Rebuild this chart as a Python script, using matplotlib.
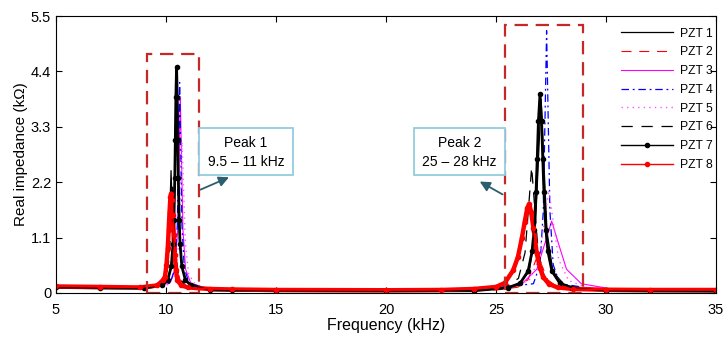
import numpy as np
import matplotlib.pyplot as plt
from matplotlib.patches import Rectangle

plt.rcParams['font.family'] = ['Liberation Sans', 'DejaVu Sans']

# ---- data: frequency (kHz) / real impedance (kOhm) ----
pzt1_f = [5, 7, 9, 9.75, 9.99, 10.11, 10.174, 10.23, 10.286, 10.35, 10.47, 10.71,
          12, 13, 15, 20, 24, 25.97, 26.51, 26.78, 26.924, 27.05, 27.176, 27.32, 27.59, 28.13,
          30, 32, 35]
pzt1_v = [0.11, 0.10, 0.09, 0.153, 0.324, 0.811, 1.66, 2.43, 1.66, 0.811, 0.324, 0.153,
          0.06, 0.05, 0.045, 0.04, 0.045, 0.148, 0.425, 1.215, 2.595, 3.845, 2.595, 1.215, 0.425, 0.148,
          0.045, 0.04, 0.035]

pzt2_f = [5, 7, 9, 9.55, 9.91, 10.09, 10.186, 10.27, 10.354, 10.45, 10.63, 10.99,
          12, 13, 15, 20, 24, 25.1, 26.0, 26.45, 26.69, 26.9, 27.11, 27.35, 27.8, 28.7,
          30, 32, 35]
pzt2_v = [0.12, 0.11, 0.10, 0.138, 0.266, 0.632, 1.271, 1.85, 1.271, 0.632, 0.266, 0.138,
          0.07, 0.06, 0.05, 0.045, 0.05, 0.064, 0.116, 0.262, 0.518, 0.75, 0.518, 0.262, 0.116, 0.064,
          0.05, 0.045, 0.04]

pzt3_f = [5, 7, 9, 10.17, 10.41, 10.53, 10.594, 10.65, 10.706, 10.77, 10.89, 11.13,
          12, 13, 15, 20, 23.5, 24.83, 26.18, 26.855, 27.215, 27.53, 27.845, 28.205, 28.88, 30.23,
          32, 35]
pzt3_v = [0.12, 0.11, 0.10, 0.193, 0.471, 1.263, 2.647, 3.9, 2.647, 1.263, 0.471, 0.193,
          0.07, 0.06, 0.05, 0.045, 0.06, 0.082, 0.184, 0.472, 0.974, 1.43, 0.974, 0.472, 0.184, 0.082,
          0.05, 0.04]

pzt4_f = [5, 7, 9, 10.20, 10.41, 10.515, 10.571, 10.62, 10.669, 10.725, 10.83, 11.04,
          12, 13, 15, 20, 24, 26.7, 27.0, 27.15, 27.23, 27.30, 27.37, 27.45, 27.6, 27.9,
          30, 32, 35]
pzt4_v = [0.12, 0.11, 0.10, 0.20, 0.499, 1.35, 2.834, 4.18, 2.834, 1.35, 0.499, 0.20,
          0.07, 0.06, 0.05, 0.045, 0.05, 0.184, 0.562, 1.636, 3.511, 5.21, 3.511, 1.636, 0.562, 0.184,
          0.05, 0.045, 0.04]

pzt5_f = [5, 7, 9, 10.13, 10.43, 10.58, 10.66, 10.73, 10.80, 10.88, 11.03, 11.33,
          12, 13, 15, 20, 24, 25.6, 26.5, 26.95, 27.19, 27.4, 27.61, 27.85, 28.3, 29.2,
          30, 32, 35]
pzt5_v = [0.12, 0.11, 0.10, 0.169, 0.381, 0.986, 2.043, 3.0, 2.043, 0.986, 0.381, 0.169,
          0.075, 0.06, 0.05, 0.045, 0.05, 0.099, 0.246, 0.663, 1.39, 2.05, 1.39, 0.663, 0.246, 0.099,
          0.06, 0.045, 0.04]

pzt6_f = [5, 7, 9, 9.7, 10.0, 10.15, 10.23, 10.3, 10.37, 10.45, 10.6, 10.9,
          12, 13, 15, 20, 24, 25.42, 26.02, 26.32, 26.48, 26.62, 26.76, 26.92, 27.22, 27.82,
          30, 32, 35]
pzt6_v = [0.11, 0.10, 0.09, 0.144, 0.291, 0.709, 1.439, 2.1, 1.439, 0.709, 0.291, 0.144,
          0.06, 0.05, 0.045, 0.04, 0.05, 0.111, 0.291, 0.801, 1.692, 2.5, 1.692, 0.801, 0.291, 0.111,
          0.045, 0.04, 0.035]

pzt7_f = [5, 7, 9, 9.84, 10.08, 10.24, 10.32, 10.36, 10.40, 10.424, 10.448, 10.48,
          10.512, 10.536, 10.56, 10.60, 10.64, 10.72, 10.88, 11.12,
          12, 13, 15, 20, 24, 25.56, 26.10, 26.46, 26.64, 26.73, 26.82, 26.874, 26.928, 27.0,
          27.072, 27.126, 27.18, 27.27, 27.36, 27.54, 27.90, 28.44,
          30, 32, 35]
pzt7_v = [0.11, 0.10, 0.09, 0.158, 0.259, 0.53, 0.97, 1.445, 2.29, 3.042, 3.883, 4.49,
          3.883, 3.042, 2.29, 1.445, 0.97, 0.53, 0.259, 0.158,
          0.06, 0.05, 0.045, 0.04, 0.045, 0.105, 0.195, 0.436, 0.826, 1.248, 1.998, 2.665, 3.411, 3.95,
          3.411, 2.665, 1.998, 1.248, 0.826, 0.436, 0.195, 0.105,
          0.045, 0.04, 0.035]

pzt8_f = [5, 7, 8.8, 9.6, 9.85, 9.95, 10.02, 10.08, 10.12, 10.16, 10.2, 10.23,
          10.27, 10.31, 10.35, 10.40, 10.45, 10.52, 10.7, 11.0,
          12, 13, 15, 20, 22.5, 24.0, 25.0, 25.4, 25.78, 26.0, 26.18, 26.3, 26.42, 26.51,
          26.6, 26.7, 26.85, 27.0, 27.14, 27.4, 27.8, 28.5,
          30, 32, 35]
pzt8_v = [0.13, 0.12, 0.11, 0.15, 0.25, 0.32, 0.55, 0.9, 1.25, 1.6, 1.9, 1.97,
          1.85, 1.55, 1.15, 0.75, 0.45, 0.25, 0.15, 0.11,
          0.08, 0.07, 0.06, 0.055, 0.06, 0.08, 0.12, 0.2, 0.45, 0.72, 1.1, 1.4, 1.68, 1.77,
          1.6, 1.3, 0.79, 0.5, 0.32, 0.18, 0.11, 0.08,
          0.065, 0.06, 0.06]

x_ticks = [5, 10, 15, 20, 25, 30, 35]
y_ticks = [0, 1.1, 2.2, 3.3, 4.4, 5.5]

fig = plt.figure(figsize=(7.27, 3.38), dpi=100)
ax = fig.add_axes([56 / 727, 45 / 338, 660 / 727, 277 / 338])

ax.plot(pzt1_f, pzt1_v, color='black', lw=0.9, label='PZT 1')
ax.plot(pzt2_f, pzt2_v, color='#FF0000', lw=0.8, dashes=(9, 7), label='PZT 2')
ax.plot(pzt3_f, pzt3_v, color='#FF00FF', lw=0.8, label='PZT 3')
ax.plot(pzt4_f, pzt4_v, color='#0000FF', lw=0.9, dashes=(6, 3, 1.5, 3), label='PZT 4')
ax.plot(pzt5_f, pzt5_v, color='#FF55FF', lw=1.0, dashes=(1, 3), label='PZT 5')
ax.plot(pzt6_f, pzt6_v, color='black', lw=0.9, dashes=(9, 7), label='PZT 6')

# thick underlays for the marker series
ax.plot(pzt7_f, pzt7_v, color='black', lw=2.0)
ax.plot(pzt8_f, pzt8_v, color='#FF0000', lw=3.2)
ax.plot(pzt7_f, pzt7_v, color='black', lw=1.0, marker='o', ms=3.0, label='PZT 7')
ax.plot(pzt8_f, pzt8_v, color='#FF0000', lw=1.0, marker='o', ms=3.0, label='PZT 8')

# dashed boxes around the two peak regions
box_col = '#C62828'
ax.add_patch(Rectangle((9.12, 0.0), 11.51 - 9.12, 4.75, fill=False, ec=box_col,
                       lw=1.6, ls=(0, (6, 3.5)), zorder=5))
ax.add_patch(Rectangle((25.41, 0.0), 28.94 - 25.41, 5.32, fill=False, ec=box_col,
                       lw=1.6, ls=(0, (6, 3.5)), zorder=5))

# callout boxes
for x0, x1, txt in [(11.5, 15.77, 'Peak 1\n9.5 \u2013 11 kHz'),
                    (21.27, 25.41, 'Peak 2\n25 \u2013 28 kHz')]:
    ax.add_patch(Rectangle((x0, 2.34), x1 - x0, 0.94, fc='white', ec='#92CDDC',
                           lw=1.3, zorder=6))
    ax.text((x0 + x1) / 2, 2.79, txt, ha='center', va='center', fontsize=10,
            linespacing=1.45, zorder=7)

arrow_kw = dict(arrowstyle='-|>,head_length=0.6,head_width=0.3', color='#2B5F6E', lw=1.3)
ax.annotate('', xy=(12.98, 2.32), xytext=(11.45, 2.03), arrowprops=arrow_kw, zorder=7)
ax.annotate('', xy=(24.15, 2.24), xytext=(25.41, 1.93), arrowprops=arrow_kw, zorder=7)

ax.set_xlim(5, 35)
ax.set_ylim(0, 5.5)
ax.set_xticks(x_ticks)
ax.set_yticks(y_ticks)
ax.set_yticklabels(['0', '1.1', '2.2', '3.3', '4.4', '5.5'])
ax.tick_params(direction='in', top=True, right=True, length=4, labelsize=10.5, width=0.8)
ax.tick_params(axis='x', pad=7)
for s in ax.spines.values():
    s.set_linewidth(0.8)

ax.set_xlabel('Frequency (kHz)', fontsize=11.5, labelpad=1)
ax.set_ylabel('Real impedance (k\u03a9)', fontsize=11, labelpad=2)

ax.legend(loc='upper left', bbox_to_anchor=(0.856, 0.958), frameon=False,
          fontsize=8.7, handlelength=4.3, handletextpad=0.55, labelspacing=0.56,
          borderpad=0, borderaxespad=0, numpoints=1)

fig.savefig('out.png', dpi=100)
